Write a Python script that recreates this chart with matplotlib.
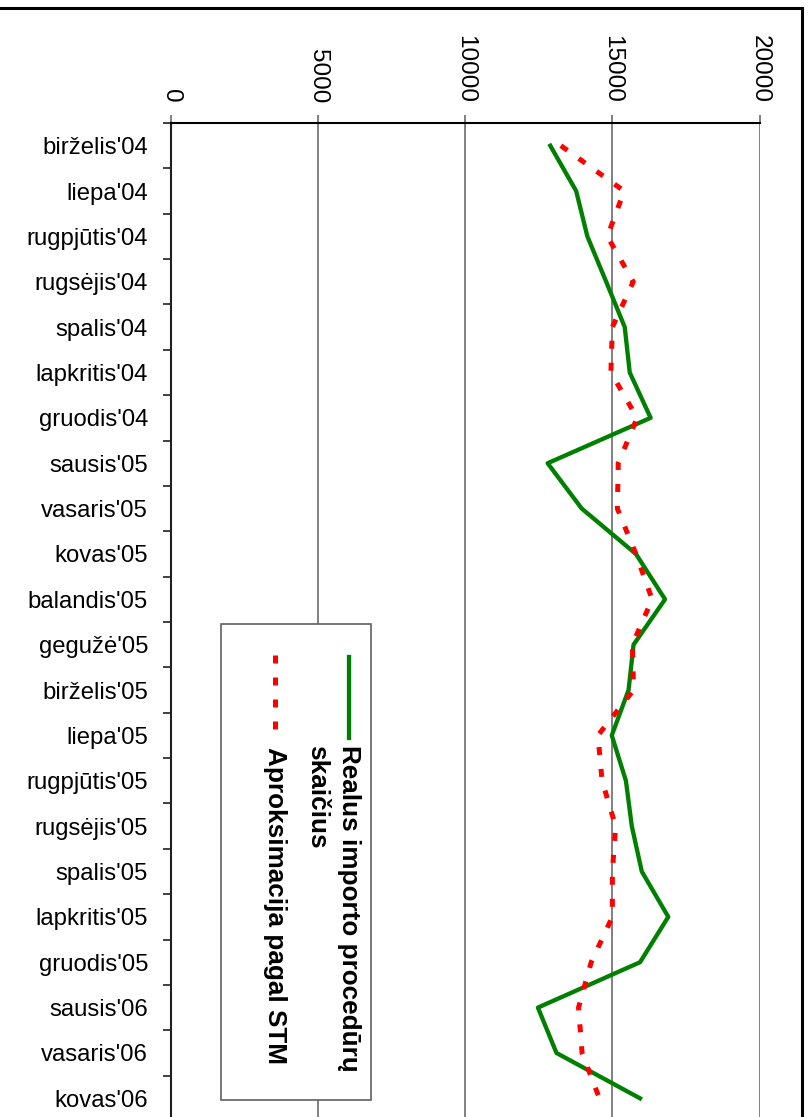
import matplotlib
matplotlib.use("Agg")
import matplotlib.pyplot as plt
from matplotlib.lines import Line2D
from matplotlib.patches import Rectangle


# Duomenys

menesiai = ["birželis'04", "liepa'04", "rugpjūtis'04", "rugsėjis'04",
            "spalis'04", "lapkritis'04", "gruodis'04", "sausis'05",
            "vasaris'05", "kovas'05", "balandis'05", "gegužė'05",
            "birželis'05", "liepa'05", "rugpjūtis'05", "rugsėjis'05",
            "spalis'05", "lapkritis'05", "gruodis'05", "sausis'06",
            "vasaris'06", "kovas'06"]

realus = [12890, 13770, 14150, 14790, 15420, 15590, 16300, 12800,
          13960, 15800, 16790, 15720, 15550, 14980, 15460, 15660,
          16000, 16900, 15940, 12470, 13100, 15940]

aproksimacija = [13250, 15400, 14830, 15710, 15000, 14950, 15840, 15200,
                 15170, 15800, 16350, 15680, 15720, 14510, 14650, 15110,
                 15000, 15000, 14280, 13850, 13970, 14560]

x_ziniai = [0, 5000, 10000, 15000, 20000]

serija_1 = "Realus importo procedūrų"
serija_1b = "skaičius"
serija_2 = "Aproksimacija pagal STM"

plt.rcParams["font.family"] = ["Liberation Sans", "DejaVu Sans"]

W, H = 810, 1117
fig = plt.figure(figsize=(W / 100, H / 100), dpi=100)
fig.patch.set_facecolor("white")


def fx(x):
    return x / W


def fy(y):
    return 1 - y / H


# Pagrindine diagrama (pasukta)
ax = fig.add_axes([fx(171), fy(1121), (759.5 - 171) / W, (1121 - 123) / H])
eil = list(range(len(menesiai)))

ax.plot(realus, eil, color="#008000", lw=3.1, zorder=3)
ax.plot(aproksimacija, eil, color="#ff0000", lw=3.6, dashes=(1.6, 2.8), zorder=4)

ax.set_xlim(0, 20000)
ax.set_ylim(len(menesiai) - 0.5, -0.5)

ax.xaxis.tick_top()
ax.set_xticks(x_ziniai)
ax.set_xticklabels([str(v) for v in x_ziniai], rotation=-90, fontsize=17.5)
ax.tick_params(axis="x", direction="out", length=5.8, width=1.4,
               color="#808080", pad=8.6)
ax.grid(axis="x", color="#808080", lw=1.4)
ax.set_axisbelow(True)

ax.set_yticks(eil)
ax.set_yticklabels(menesiai, fontsize=17.2)
ax.set_yticks([i - 0.5 for i in range(len(menesiai) + 1)], minor=True)
ax.tick_params(axis="y", which="major", length=0, pad=16.5)
ax.tick_params(axis="y", which="minor", direction="out", length=5.8,
               width=1.4, color="#404040")

ax.spines["right"].set_visible(False)
ax.spines["bottom"].set_visible(False)
ax.spines["top"].set_color("black")
ax.spines["top"].set_linewidth(1.5)
ax.spines["left"].set_color("#202020")
ax.spines["left"].set_linewidth(1.5)

# Legenda
fig.add_artist(Rectangle((fx(220.7), fy(1100)), 150.3 / W, 476 / H,
                         transform=fig.transFigure, facecolor="white",
                         edgecolor="#606060", lw=1.2, zorder=5))
fig.add_artist(Line2D([fx(349), fx(349)], [fy(656.7), fy(738.3)],
                      transform=fig.transFigure, color="#008000",
                      lw=3.1, zorder=6))
fig.add_artist(Line2D([fx(275), fx(275)], [fy(655), fy(736)],
                      transform=fig.transFigure, color="#ff0000",
                      lw=3.6, dashes=(1.6, 2.8), zorder=6))

for x, y, tekstas in [(342, 745, serija_1), (310, 745, serija_1b),
                      (268.3, 746.7, serija_2)]:
    fig.text(fx(x), fy(y), tekstas, rotation=-90, rotation_mode="anchor",
             ha="left", va="baseline", fontsize=18.8, fontweight="bold",
             zorder=7)

# Remelis aplink diagrama
fig.add_artist(Rectangle((fx(-10), fy(1130)), 812 / W, 1122 / H,
                         transform=fig.transFigure, fill=False,
                         edgecolor="black", lw=2.2, zorder=8))

fig.savefig("out.png", dpi=100)
